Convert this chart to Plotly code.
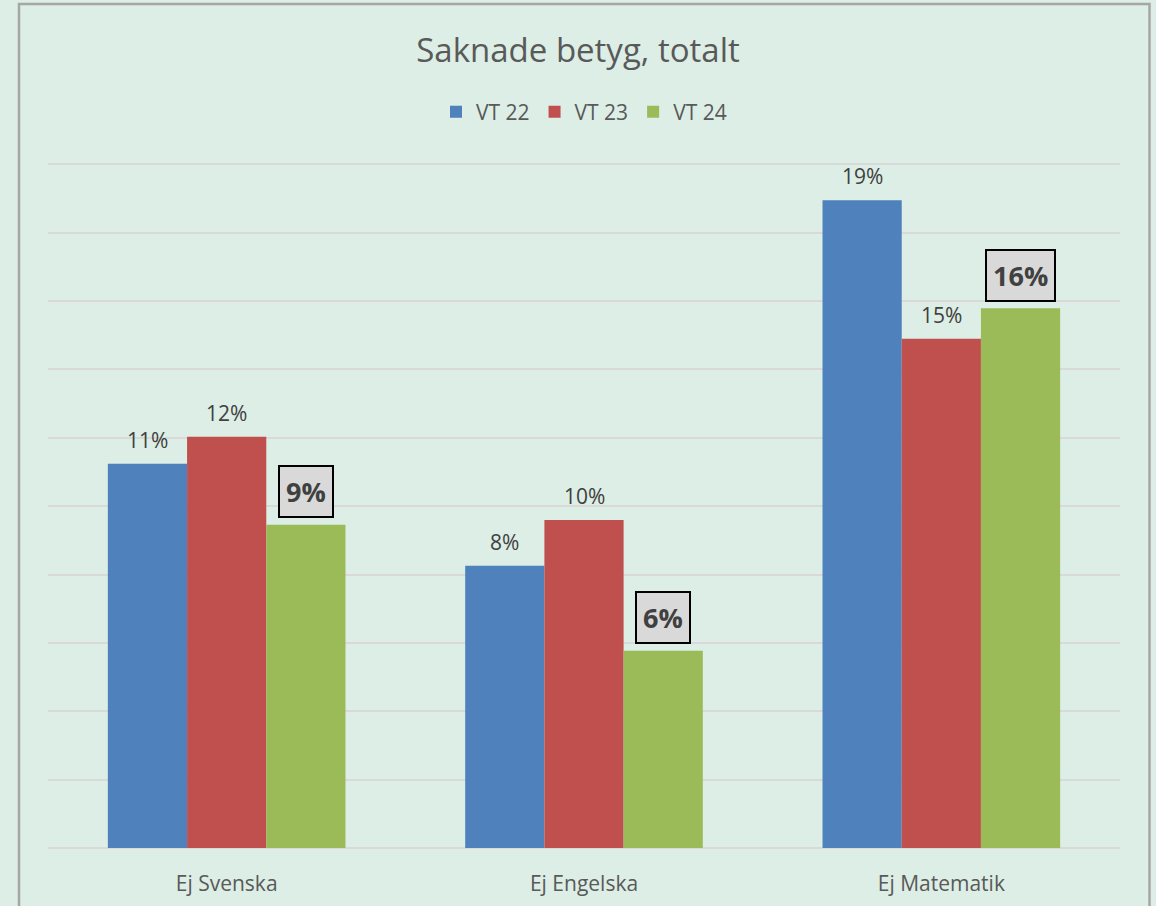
import plotly.graph_objects as go

categories = ["Ej Svenska", "Ej Engelska", "Ej Matematik"]
series_names = ["VT 22", "VT 23", "VT 24"]
vt22 = [11.24, 8.26, 18.95]
vt23 = [12.03, 9.60, 14.90]
vt24 = [9.46, 5.77, 15.79]
series_values = [vt22, vt23, vt24]
colors = ["#4F81BD", "#C0504D", "#9BBB59"]
highlight_series = "VT 24"

bg = "#DCEEE5"
bargap = 0.335
group_w = 1 - bargap
bar_w = group_w / len(series_names)

fig = go.Figure()
for name, vals, col in zip(series_names, series_values, colors):
    fig.add_trace(go.Bar(name=name, x=categories, y=vals, marker=dict(color=col, line=dict(width=0))))

annotations = []
for si, (name, vals) in enumerate(zip(series_names, series_values)):
    offset = (si - (len(series_names) - 1) / 2) * bar_w
    for ci, v in enumerate(vals):
        label = f"{round(v):d}%"
        if name == highlight_series:
            annotations.append(dict(
                x=ci + offset, y=v, xref="x", yref="y", text=f"<b>{label}</b>",
                showarrow=False, yanchor="middle", yshift=33,
                font=dict(family="Open Sans", size=27, color="#404040"),
                bgcolor="#D9D9D9", bordercolor="#000000", borderwidth=2, borderpad=6,
            ))
        else:
            annotations.append(dict(
                x=ci + offset, y=v, xref="x", yref="y", text=label,
                showarrow=False, yanchor="middle", yshift=24,
                font=dict(family="Open Sans", size=21, color="#404040"),
            ))

top_pad = 0.1
plot_h = 848 - 161

fig.update_layout(
    width=1156, height=906,
    paper_bgcolor=bg, plot_bgcolor=bg,
    margin=dict(l=48, r=36, t=161, b=58),
    barmode="group", bargap=bargap, bargroupgap=0,
    title=dict(text="Saknade betyg, totalt", x=0.5, xanchor="center",
               y=1 - 50 / 906, yref="container", yanchor="middle",
               font=dict(family="Open Sans", size=33, color="#595959")),
    legend=dict(orientation="h", x=0.5, xanchor="center",
                y=(848 - 112) / plot_h, yanchor="middle",
                font=dict(family="Open Sans", size=21, color="#595959"),
                bgcolor="rgba(0,0,0,0)", itemwidth=30),
    xaxis=dict(showgrid=False, showline=False, ticks="", automargin=False,
               tickfont=dict(family="Open Sans", size=21, color="#595959"),
               ticklabelstandoff=21),
    yaxis=dict(range=[0, 20 + top_pad], dtick=2, showticklabels=False, showgrid=True,
               gridcolor="#D9D9D9", gridwidth=2, zeroline=True, automargin=False,
               zerolinecolor="#D9D9D9", zerolinewidth=2, showline=False),
    annotations=annotations,
    shapes=[dict(type="rect", xref="paper", yref="paper",
                 x0=(19 - 48) / 1072, x1=(1149.5 - 48) / 1072,
                 y0=(848 - 912) / plot_h, y1=(848 - 4) / plot_h,
                 line=dict(color="#A6A6A6", width=2.5), fillcolor="rgba(0,0,0,0)",
                 layer="above")],
    showlegend=True,
)

fig.write_html("out.html", config={"displayModeBar": False},
               post_script="document.body.style.margin='0';document.body.style.overflow='hidden';")
